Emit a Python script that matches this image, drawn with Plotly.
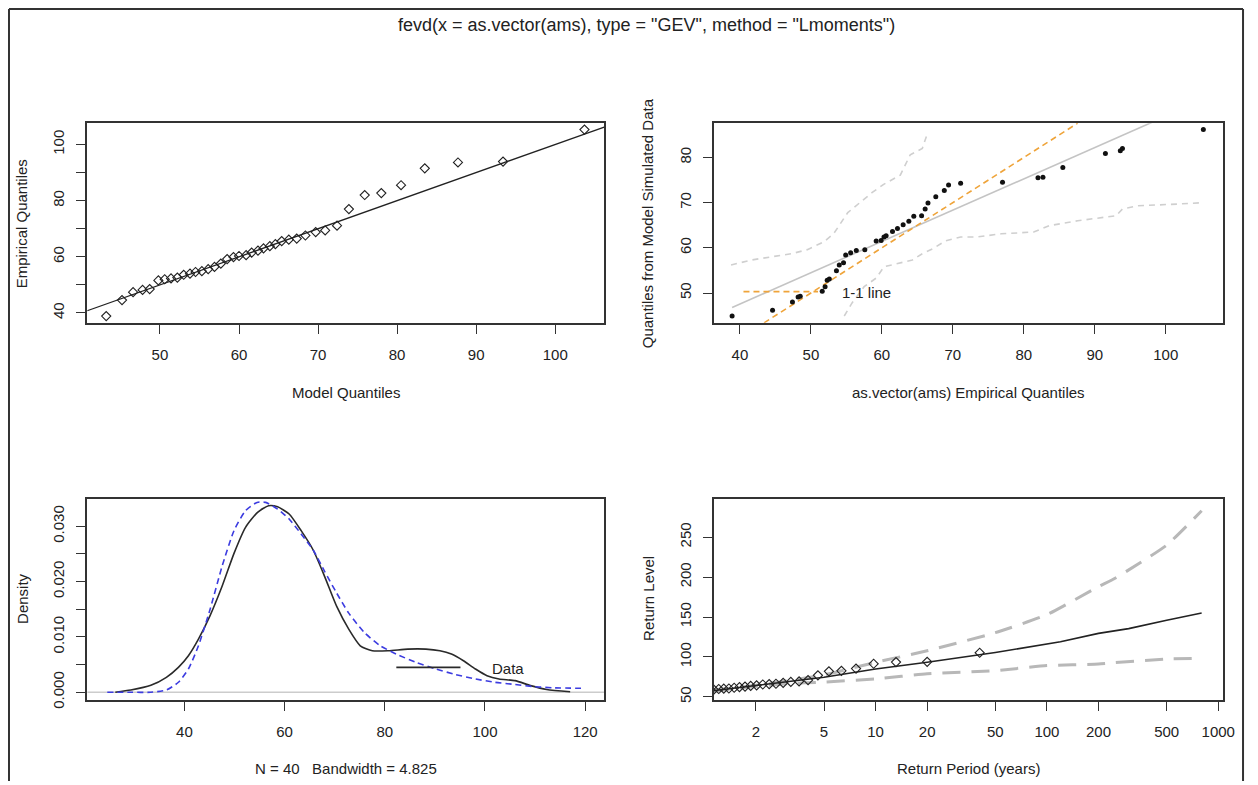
import plotly.graph_objects as go

# the page body keeps an 8px margin, so the figure is shifted by OFF pixels
OFF = 8
W, H = 1258 - OFF, 785 - OFF

# ---------------- data ----------------
empirical = [38.9, 44.6, 47.4, 48.2, 48.5, 51.6, 52.0, 52.3, 52.6, 53.6,
             54.0, 54.6, 54.9, 55.6, 56.4, 57.6, 59.2, 59.9, 60.3, 60.6,
             61.5, 62.2, 63.0, 63.8, 64.5, 65.6, 66.1, 66.5, 67.6, 68.8,
             69.4, 71.1, 77.0, 82.0, 82.7, 85.5, 91.5, 93.6, 93.9, 105.3]
model_q = [43.2, 45.2, 46.6, 47.8, 48.7, 49.8, 50.6, 51.4, 52.2, 53.0,
           53.8, 54.5, 55.3, 56.1, 56.9, 57.7, 58.5, 59.3, 60.0, 60.9,
           61.6, 62.4, 63.1, 63.9, 64.6, 65.4, 66.3, 67.3, 68.4, 69.7,
           70.9, 72.4, 73.9, 75.9, 78.0, 80.5, 83.5, 87.7, 93.4, 103.7]
sim_q = [44.9, 46.2, 48.0, 49.1, 49.3, 50.4, 51.4, 52.8, 53.1, 54.9,
         56.2, 56.7, 58.4, 58.9, 59.4, 59.6, 61.5, 61.6, 62.4, 62.7,
         63.6, 64.3, 65.1, 65.9, 67.0, 67.1, 68.6, 69.9, 71.3, 72.7,
         73.9, 74.3, 74.5, 75.5, 75.6, 77.8, 80.9, 81.5, 82.0, 86.2]

# regression line (qq of simulated data)
reg_x = [38.9, 105.3]
reg_y = [46.8, 92.8]
# 1-1 line
one_x = [43.4, 87.6]
one_y = [43.4, 87.6]

# simulation envelope
up_x = [38.75, 41.6, 44.4, 47.3, 49.5, 51.8, 53.2, 54.4, 55.2, 56.9, 58.6, 60.2, 61.5, 62.6, 64.0, 65.7, 66.5]
up_y = [56.2, 57.3, 58.0, 58.7, 59.6, 61.3, 63.1, 66.0, 67.8, 70.0, 72.2, 74.0, 75.1, 76.1, 80.6, 82.0, 85.7]
lo_x = [54.7, 55.8, 57.5, 59.2, 60.3, 62.0, 64.3, 65.7, 67.2, 68.9, 71.1, 73.4, 76.8, 81.4, 83.6, 87.6, 93.0, 93.9, 96.1, 101.8, 105.3]
lo_y = [44.9, 47.8, 51.4, 53.3, 55.8, 56.4, 57.3, 58.7, 59.8, 61.5, 62.4, 62.4, 63.1, 63.5, 64.9, 66.0, 67.1, 68.6, 69.3, 69.7, 70.0]

# density panel
kde_x = [26.2, 29.3, 33.3, 36.4, 38.8, 40.8, 42.8, 45.1, 47.5, 49.9, 52.2, 54.6, 56.8, 58.6,
         60.9, 63.3, 65.7, 68.0, 70.4, 72.8, 75.1, 77.5, 80.7, 84.6, 88.2, 91.0, 93.3, 95.7,
         98.1, 100.4, 102.8, 106.0, 109.1, 112.3, 117.0]
kde_y = [0.0000, 0.0004, 0.00125, 0.0027, 0.0045, 0.0066, 0.0096, 0.0138, 0.0191, 0.0251,
         0.0298, 0.0325, 0.0337, 0.0335, 0.0322, 0.0292, 0.0257, 0.0209, 0.0155, 0.0114,
         0.0084, 0.0075, 0.0075, 0.0078, 0.0078, 0.0075, 0.0069, 0.0057, 0.0042, 0.0030,
         0.0024, 0.0021, 0.0012, 0.0005, 0.0001]
gev_x = [24.6, 29.3, 33.3, 36.4, 38.8, 40.8, 42.8, 45.1, 47.5, 49.9, 52.2, 54.5, 56.2, 58.6,
         60.9, 63.3, 65.7, 68.0, 70.4, 72.8, 75.9, 79.1, 82.3, 86.2, 90.2, 94.1, 98.1, 102.0,
         106.0, 110.0, 113.9, 120.0]
gev_y = [0.0000, 0.0000, 0.0000, 0.0004, 0.0018, 0.0042, 0.0084, 0.0149, 0.0227, 0.0292,
         0.0328, 0.0343, 0.0343, 0.0331, 0.0313, 0.0286, 0.0257, 0.0218, 0.0179, 0.0143,
         0.0108, 0.0084, 0.0069, 0.0054, 0.0042, 0.0032, 0.0024, 0.0018, 0.0014, 0.0010,
         0.0008, 0.0007]

# return level panel
rl_period = [1.1, 1.5, 2, 3, 5, 10, 20, 50, 80, 100, 120, 200, 250, 300, 500, 800]
rl_level = [57.5, 61.0, 63.6, 68.8, 74.7, 85.0, 93.3, 105.6, 112.5, 116.0, 119.0, 129.5, 132.5, 135.5, 146.0, 155.0]
ci_period = [1.1, 1.5, 2, 3, 5, 10, 20, 50, 100, 200, 250, 500, 800]
ci_upper = [58.5, 61.5, 64.5, 70.0, 77.6, 93.3, 107.8, 130.4, 153.0, 188.0, 198.5, 240.0, 283.0]
ci_lower = [56.5, 60.5, 63.0, 66.5, 68.6, 72.7, 78.9, 83.0, 89.2, 91.2, 93.0, 97.4, 98.2]
emp_period = [1.136, 1.215, 1.300, 1.393, 1.495, 1.606, 1.730, 1.867, 2.021, 2.196,
              2.394, 2.622, 2.888, 3.201, 3.577, 4.035, 4.607, 5.342, 6.320, 7.689,
              9.741, 13.16, 20.00, 40.50]
emp_level = empirical[16:]

title_text = 'fevd(x = as.vector(ams), type = "GEV", method = "Lmoments")'

# ---------------- layout helpers ----------------
FONT = "Liberation Sans, Arial, sans-serif"
TXT = "#222222"
LINE = "#333333"


def px_x(p):
    return (p - OFF) / W


def px_y(p):
    return 1 - (p - OFF) / H


def axis(domain, rng, tickvals, ticktext=None, is_y=False, log=False):
    d = dict(domain=domain, range=rng, showline=True, mirror=True, linecolor=LINE,
             linewidth=1.5, ticks="outside", ticklen=9, tickwidth=1.2, tickcolor=LINE,
             showgrid=False, zeroline=False, tickvals=tickvals,
             tickfont=dict(family=FONT, size=15, color=TXT), fixedrange=True)
    if ticktext is not None:
        d["ticktext"] = ticktext
    if is_y:
        d["tickangle"] = -90
        d["ticklabelstandoff"] = 6
    else:
        d["ticklabelstandoff"] = 8
    if log:
        d["type"] = "log"
    return d


colL = [px_x(88), px_x(610)]
colR = [px_x(720.5), px_x(1235)]
rowT = [px_y(326.5), px_y(124.5)]
rowB = [px_y(708), px_y(504.5)]

fig = go.Figure()

# ---- top-left: QQ model vs empirical ----
fig.add_trace(go.Scatter(x=model_q, y=empirical, mode="markers", xaxis="x", yaxis="y",
                         marker=dict(symbol="diamond-open", size=7, color="#222",
                                     line=dict(width=1.1, color="#222")), showlegend=False))
fig.add_trace(go.Scatter(x=[40.8, 106.2], y=[40.8, 106.2], mode="lines", xaxis="x", yaxis="y",
                         line=dict(color="#222", width=1.3), showlegend=False))

# ---- top-right: QQ simulated ----
fig.add_trace(go.Scatter(x=up_x, y=up_y, mode="lines", xaxis="x2", yaxis="y2",
                         line=dict(color="#CFCFCF", width=1.6, dash="6px,5px"), showlegend=False))
fig.add_trace(go.Scatter(x=lo_x, y=lo_y, mode="lines", xaxis="x2", yaxis="y2",
                         line=dict(color="#CFCFCF", width=1.6, dash="6px,5px"), showlegend=False))
fig.add_trace(go.Scatter(x=reg_x, y=reg_y, mode="lines", xaxis="x2", yaxis="y2",
                         line=dict(color="#C4C4C4", width=1.6), showlegend=False))
fig.add_trace(go.Scatter(x=one_x, y=one_y, mode="lines", xaxis="x2", yaxis="y2",
                         line=dict(color="#EFA43A", width=1.6, dash="6px,4px"), showlegend=False))
fig.add_trace(go.Scatter(x=empirical, y=sim_q, mode="markers", xaxis="x2", yaxis="y2",
                         marker=dict(symbol="circle", size=5, color="#111"), showlegend=False))
fig.add_trace(go.Scatter(x=[40.5, 51.0], y=[50.3, 50.3], mode="lines", xaxis="x2", yaxis="y2",
                         line=dict(color="#EFA43A", width=1.6, dash="6px,4px"), showlegend=False))

# ---- bottom-left: density ----
fig.add_trace(go.Scatter(x=[20.6, 123.8], y=[0, 0], mode="lines", xaxis="x3", yaxis="y3",
                         line=dict(color="#CCCCCC", width=1.6), showlegend=False))
fig.add_trace(go.Scatter(x=kde_x, y=kde_y, mode="lines", xaxis="x3", yaxis="y3",
                         line=dict(color="#2a2a2a", width=1.6, shape="spline", smoothing=0.6),
                         showlegend=False))
fig.add_trace(go.Scatter(x=gev_x, y=gev_y, mode="lines", xaxis="x3", yaxis="y3",
                         line=dict(color="#3C3CE0", width=1.6, dash="6px,4px", shape="spline",
                                   smoothing=0.6), showlegend=False))
fig.add_trace(go.Scatter(x=[82.3, 95.1], y=[0.0045, 0.0045], mode="lines", xaxis="x3", yaxis="y3",
                         line=dict(color="#2a2a2a", width=1.6), showlegend=False))

# ---- bottom-right: return levels ----
fig.add_trace(go.Scatter(x=ci_period, y=ci_upper, mode="lines", xaxis="x4", yaxis="y4",
                         line=dict(color="#B8B8B8", width=3, dash="18px,11px", shape="spline",
                                   smoothing=0.5), showlegend=False))
fig.add_trace(go.Scatter(x=ci_period, y=ci_lower, mode="lines", xaxis="x4", yaxis="y4",
                         line=dict(color="#B8B8B8", width=3, dash="18px,11px", shape="spline",
                                   smoothing=0.5), showlegend=False))
fig.add_trace(go.Scatter(x=rl_period, y=rl_level, mode="lines", xaxis="x4", yaxis="y4",
                         line=dict(color="#222", width=1.6), showlegend=False))
fig.add_trace(go.Scatter(x=emp_period, y=emp_level, mode="markers", xaxis="x4", yaxis="y4",
                         marker=dict(symbol="diamond-open", size=7, color="#222",
                                     line=dict(width=1.1, color="#222")), showlegend=False,
                         cliponaxis=True))

layout = dict(
    width=W, height=H, margin=dict(l=0, r=0, t=0, b=0),
    paper_bgcolor="white", plot_bgcolor="white", showlegend=False,
    xaxis=axis(colL, [40.8, 106.2], [50, 60, 70, 80, 90, 100]),
    yaxis=axis(rowT, [36.5, 107.6], [40, 50, 60, 70, 80, 90, 100],
               ["40", "", "60", "", "80", "", "100"], is_y=True),
    xaxis2=axis(colR, [36.3, 108.1], [40, 50, 60, 70, 80, 90, 100]),
    yaxis2=axis(rowT, [43.4, 87.6], [50, 60, 70, 80], is_y=True),
    xaxis3=axis(colL, [20.6, 123.8], [40, 60, 80, 100, 120]),
    yaxis3=axis(rowB, [-0.00138, 0.03496], [0, 0.005, 0.01, 0.015, 0.02, 0.025, 0.03],
                ["0.000", "", "0.010", "", "0.020", "", "0.030"], is_y=True),
    xaxis4=axis(colR, [0.055, 3.029], [2, 5, 10, 20, 50, 100, 200, 500, 1000],
                ["2", "5", "10", "20", "50", "100", "200", "500", "1000"], log=True),
    yaxis4=axis(rowB, [46.3, 298], [50, 100, 150, 200, 250], is_y=True),
)
layout["xaxis"]["anchor"] = "y"
layout["yaxis"]["anchor"] = "x"
layout["xaxis2"]["anchor"] = "y2"
layout["yaxis2"]["anchor"] = "x2"
layout["xaxis3"]["anchor"] = "y3"
layout["yaxis3"]["anchor"] = "x3"
layout["xaxis4"]["anchor"] = "y4"
layout["yaxis4"]["anchor"] = "x4"
fig.update_layout(**layout)


def ann(text, x, y, size=15, angle=0):
    fig.add_annotation(text=text, x=px_x(x), y=px_y(y), xref="paper", yref="paper",
                       showarrow=False, textangle=angle, xanchor="center", yanchor="middle",
                       font=dict(family=FONT, size=size, color=TXT))


ann(title_text, 653, 25, size=18)
ann("Model Quantiles", 349, 397)
ann("Empirical Quantiles", 22, 226, angle=-90)
ann("as.vector(ams) Empirical Quantiles", 978, 397)
ann("Quantiles from Model Simulated Data", 654, 226, angle=-90)
ann("N = 40   Bandwidth = 4.825", 349, 777)
ann("Density", 22, 605, angle=-90)
ann("Return Period (years)", 978, 777)
ann("Return Level", 654, 605, angle=-90)

# legend texts inside panels
fig.add_annotation(text="1-1 line", x=54.1, y=50.2, xref="x2", yref="y2", showarrow=False,
                   xanchor="left", yanchor="middle", font=dict(family=FONT, size=15, color=TXT))
fig.add_annotation(text="Data", x=101.0, y=0.0043, xref="x3", yref="y3", showarrow=False,
                   xanchor="left", yanchor="middle", font=dict(family=FONT, size=15, color=TXT))

# outer frame
for x0, y0, x1, y1 in [(9, 9, 1255, 9), (9, 9, 9, 790), (1255, 9, 1255, 790)]:
    fig.add_shape(type="line", xref="paper", yref="paper", x0=px_x(x0), y0=px_y(y0),
                  x1=px_x(x1), y1=px_y(y1), line=dict(color=LINE, width=2))

fig.write_html("out.html")
